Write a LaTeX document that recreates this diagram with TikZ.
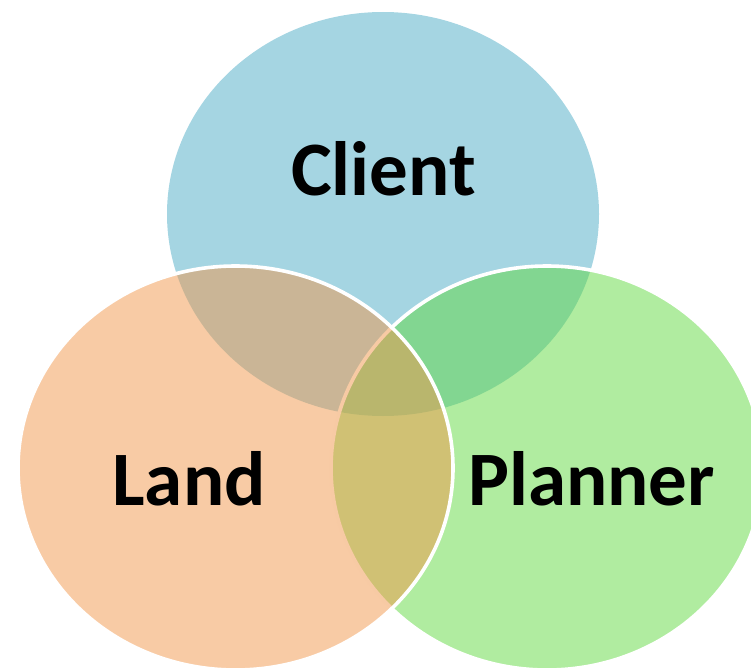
\documentclass[tikz,border=0pt]{standalone}
\usepackage{fontspec}
\setmainfont{Carlito}
\usetikzlibrary{shapes.geometric}
\definecolor{clientblue}{RGB}{75,171,197}
\definecolor{landorange}{RGB}{241,151,75}
\definecolor{plannergreen}{RGB}{97,217,65}
\tikzset{
  set/.style={ellipse, inner sep=0pt, minimum width=432pt, minimum height=404pt,
    fill opacity=0.5},
  rimmed/.style={set, draw=white, line width=3.6pt},
  setlabel/.style={anchor=base, inner sep=0pt, text=black,
    font=\fontsize{77}{77}\selectfont\bfseries}
}
\begin{document}
\begin{tikzpicture}[x=1pt, y=-1pt]
  \useasboundingbox (0,0) rectangle (751,671);
  \clip (0,0) rectangle (751,671);
  % the three overlapping sets, back to front
  \node[set, fill=clientblue] (client) at (383,214) {};
  \node[rimmed, fill=plannergreen] (planner) at (547,468) {};
  \node[rimmed, fill=landorange, minimum width=435pt] (land) at (235.5,468) {};
  % set names
  \node[setlabel] (clientlabel) at (383.5,195) {Client};
  \node[setlabel] (landlabel) at (189,505) {Land};
  \node[setlabel] (plannerlabel) at (591.5,505) {Planner};
\end{tikzpicture}
\end{document}
